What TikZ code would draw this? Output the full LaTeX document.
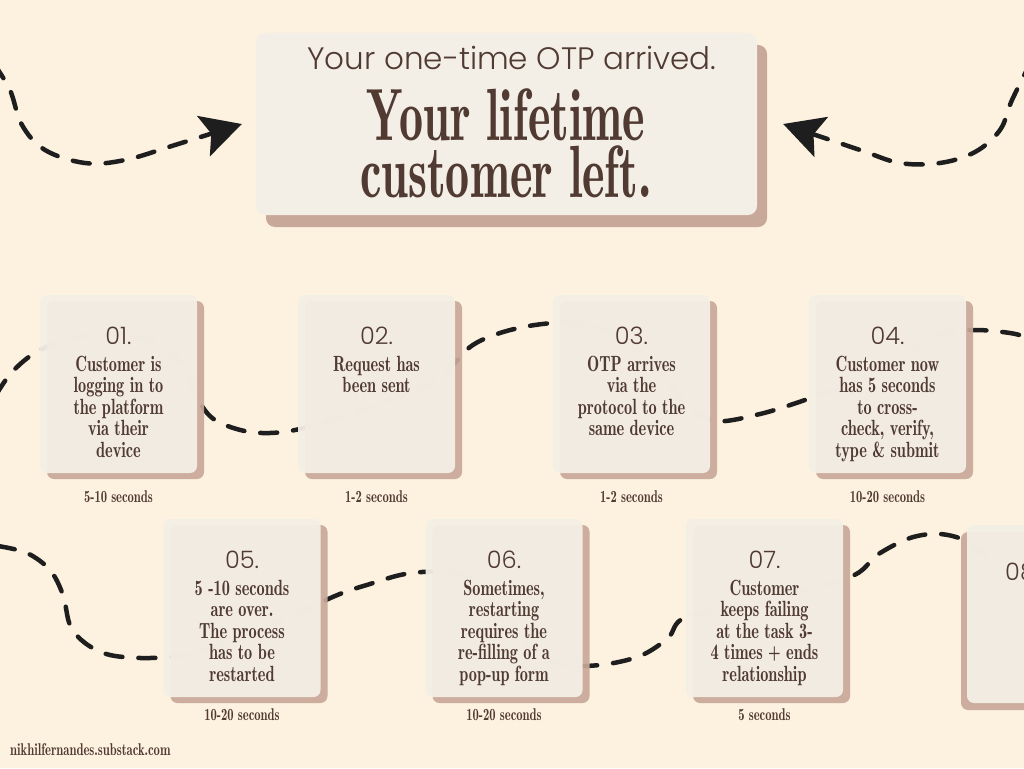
\documentclass[tikz,border=0pt]{standalone}
\usepackage{fontspec}
\usetikzlibrary{arrows.meta,positioning,shadows}
\newfontfamily\cardfont{lmromandemi10-regular.otf}[FakeStretch=0.74]
\newfontfamily\headfont{lmromandemi10-regular.otf}[FakeStretch=0.65]
\newfontfamily\thinfont{Poppins Light}
\definecolor{bgcream}{RGB}{253,241,224}
\definecolor{cardfill}{RGB}{243,239,230}
\definecolor{shadowbrown}{RGB}{200,168,153}
\definecolor{inkbrown}{RGB}{80,58,50}
\definecolor{trailblack}{RGB}{30,30,30}

\begin{document}
\begin{tikzpicture}[x=1pt,y=-1pt,line cap=round,line join=round,
  trail/.style={draw=trailblack,line width=4.5pt,dash pattern=on 17pt off 16pt},
  card/.style={fill=cardfill,fill opacity=0.95,rounded corners=7pt,minimum width=157pt,minimum height=178pt,inner sep=0pt},
  cardshadow/.style={copy shadow={shadow xshift=7pt,shadow yshift=-6pt,fill=shadowbrown,fill opacity=0.92,draw=none}},
  titlebox/.style={fill=cardfill,rounded corners=9pt,minimum width=501pt,minimum height=182pt,inner sep=0pt,
    copy shadow={shadow xshift=10pt,shadow yshift=-12pt,fill=shadowbrown,draw=none}},
  numtext/.style={font=\thinfont\fontsize{24}{24}\selectfont,text=inkbrown,inner sep=0pt},
  bodytext/.style={font=\cardfont\fontsize{22}{21.5}\selectfont,text=inkbrown,align=center,inner sep=0pt},
  timetext/.style={font=\cardfont\fontsize{17}{17}\selectfont,text=inkbrown,inner sep=0pt}]
\useasboundingbox (0,0) rectangle (1024,768);
\fill[bgcream] (0,0) rectangle (1024,768);

% headline box
\node[titlebox] (title) at (506.5,124) {};
\node[font=\thinfont\fontsize{31}{31}\selectfont,text=inkbrown,anchor=base] (sub) at (512,70) {Your one-time OTP arrived.};
\node[font=\headfont\fontsize{74}{74}\selectfont,text=inkbrown,anchor=base] (head1) at (506,140) {Your lifetime};
\node[font=\headfont\fontsize{74}{74}\selectfont,text=inkbrown,anchor=base] (head2) at (506,197) {customer left.};

% arrows into the headline
\coordinate (ltip) at ([xshift=-14pt]title.west);
\coordinate (rtip) at ([xshift=26pt]title.east);
\draw[trail,-{Stealth[length=40pt,width=42pt,inset=8pt]}] plot[smooth,tension=0.6] coordinates {(-6,64) (10,90) (22,125) (45,150) (85,163) (125,160) (175,145) (ltip)};
\draw[trail,-{Stealth[length=40pt,width=42pt,inset=8pt]}] plot[smooth,tension=0.6] coordinates {(1032,60) (1012,100) (1000,130) (975,152) (940,163) (900,163) (860,150) (rtip)};

% trails behind the cards
\draw[trail] plot[smooth,tension=0.55] coordinates {(-4,395) (12,372) (38,351) (75,338) (115,334) (152,342) (180,362) (197,398) (215,420) (250,432) (290,431) (345,416) (400,397) (440,378) (470,347) (500,333) (535,325) (570,323) (610,332) (650,360) (685,403) (715,421) (760,414) (805,400) (860,380) (905,356) (940,334) (975,330) (1010,333) (1030,338)};
\draw[trail] plot[smooth,tension=0.55] coordinates {(-2,546) (27,553) (50,570) (63,595) (70,625) (85,643) (110,655) (150,658) (195,653) (265,628) (335,596) (370,584) (405,574) (440,572) (475,580) (505,610) (530,645) (560,664) (600,665) (640,656) (668,638) (686,617) (760,602) (850,577) (877,555) (910,538) (940,534) (968,542) (995,565)};

% first row
\node[card,cardshadow] (c1) at (118.5,384) {};
\node[numtext,below=32pt of c1.north] (n1) {01.};
\node[bodytext,below=11pt of n1] (b1) {Customer is\\logging in to\\the platform\\via their\\device};
\node[timetext,below=17pt of c1] (s1) {5-10 seconds};

\node[card,cardshadow] (c2) at (376.5,384) {};
\node[numtext,below=32pt of c2.north] (n2) {02.};
\node[bodytext,below=11pt of n2] (b2) {Request has\\been sent};
\node[timetext,below=17pt of c2] (s2) {1-2 seconds};

\node[card,cardshadow] (c3) at (631.5,384) {};
\node[numtext,below=32pt of c3.north] (n3) {03.};
\node[bodytext,below=11pt of n3] (b3) {OTP arrives\\via the\\protocol to the\\same device};
\node[timetext,below=17pt of c3] (s3) {1-2 seconds};

\node[card,cardshadow] (c4) at (887.5,384) {};
\node[numtext,below=32pt of c4.north] (n4) {04.};
\node[bodytext,below=11pt of n4] (b4) {Customer now\\has 5 seconds\\to cross-\\check, verify,\\type \& submit};
\node[timetext,below=17pt of c4] (s4) {10-20 seconds};

% second row
\node[card,cardshadow] (c5) at (242,608) {};
\node[numtext,below=32pt of c5.north] (n5) {05.};
\node[bodytext,below=11pt of n5] (b5) {5 -10 seconds\\are over.\\The process\\has to be\\restarted};
\node[timetext,below=11pt of c5] (s5) {10-20 seconds};

\node[card,cardshadow] (c6) at (504,608) {};
\node[numtext,below=32pt of c6.north] (n6) {06.};
\node[bodytext,below=11pt of n6] (b6) {Sometimes,\\restarting\\requires the\\re-filling of a\\pop-up form};
\node[timetext,below=11pt of c6] (s6) {10-20 seconds};

\node[card,cardshadow] (c7) at (764.5,608) {};
\node[numtext,below=32pt of c7.north] (n7) {07.};
\node[bodytext,below=11pt of n7] (b7) {Customer\\keeps failing\\at the task 3-\\4 times + ends\\relationship};
\node[timetext,below=11pt of c7] (s7) {5 seconds};

\node[card,copy shadow={shadow xshift=-6pt,shadow yshift=-7pt,fill=shadowbrown,fill opacity=0.92,draw=none}] (c8) at (1045.5,614) {};
\node[numtext,anchor=west] (n8) at (1005,572) {08.};

\node[timetext,anchor=base west] (foot) at (10,755) {nikhilfernandes.substack.com};
\end{tikzpicture}
\end{document}
